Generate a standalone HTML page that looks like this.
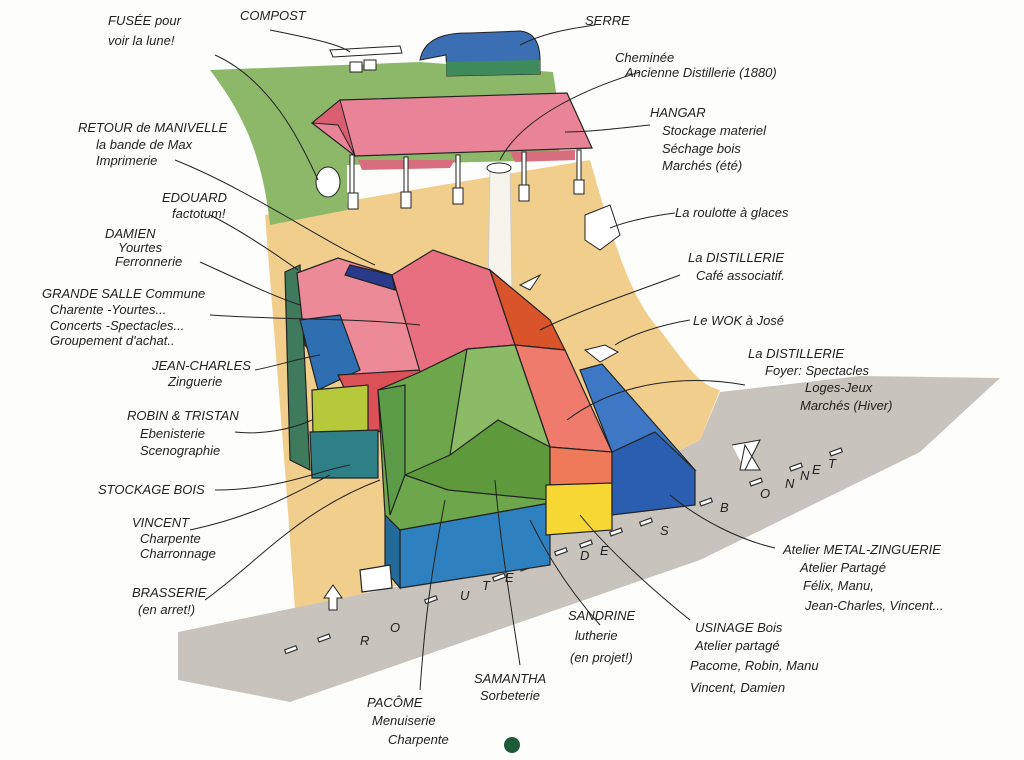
<!DOCTYPE html>
<html><head><meta charset="utf-8"><style>
html,body{margin:0;padding:0;background:#fff}
svg{display:block}
text{font-family:"Liberation Sans",sans-serif;font-style:italic;font-size:13px;fill:#222}
</style></head><body>
<svg width="1024" height="760" viewBox="0 0 1024 760" xmlns="http://www.w3.org/2000/svg">
<rect width="1024" height="760" fill="#fdfdfb"/>
<!-- beige ground -->
<path d="M265,215 L590,160 C610,230 630,300 660,330 C690,370 700,385 720,390 L700,440 L420,580 L295,610 L285,470 Z" fill="#f1ce8c"/>
<!-- green field -->
<path d="M210,70 L420,62 L553,72 L556,92 L560,160 L347,165 L347,210 L270,225 C262,150 240,110 210,70 Z" fill="#8db86a"/>
<!-- gray road area -->
<path d="M178,632 L420,582 L700,440 L720,392 L860,376 L1000,378 L920,452 L700,560 L290,702 L178,680 Z" fill="#c9c3bd"/>
<!-- road dashes -->
<g stroke="#333" stroke-width="1.2" fill="#fff">
<rect x="285" y="648" width="12" height="4" transform="rotate(-20 290 650)"/>
<rect x="318" y="636" width="12" height="4" transform="rotate(-20 324 638)"/>
<rect x="425" y="598" width="12" height="4" transform="rotate(-20 430 600)"/>
<rect x="493" y="575" width="12" height="4" transform="rotate(-20 500 577)"/>
<rect x="520" y="565" width="12" height="4" transform="rotate(-20 526 567)"/>
<rect x="555" y="550" width="12" height="4" transform="rotate(-20 560 552)"/>
<rect x="580" y="542" width="12" height="4" transform="rotate(-20 586 544)"/>
<rect x="610" y="530" width="12" height="4" transform="rotate(-20 616 532)"/>
<rect x="640" y="520" width="12" height="4" transform="rotate(-20 646 522)"/>
<rect x="700" y="500" width="12" height="4" transform="rotate(-20 706 502)"/>
<rect x="750" y="480" width="12" height="4" transform="rotate(-20 756 482)"/>
<rect x="790" y="465" width="12" height="4" transform="rotate(-20 796 467)"/>
<rect x="830" y="450" width="12" height="4" transform="rotate(-20 836 452)"/>
</g>
<g font-size="13" style="font-style:normal">
<text x="360" y="645">R</text><text x="390" y="632">O</text><text x="460" y="600">U</text><text x="482" y="590">T</text><text x="505" y="582">E</text>
<text x="580" y="560">D</text><text x="600" y="555">E</text><text x="660" y="535">S</text><text x="720" y="512">B</text><text x="760" y="498">O</text><text x="785" y="488">N</text><text x="800" y="480">N</text><text x="812" y="474">E</text><text x="828" y="468">T</text>
</g>
<!-- white arrows -->
<path d="M745,445 L760,470 L740,470 Z M732,445 L760,440 L745,470" fill="#fff" stroke="#222"/>
<path d="M333,585 L342,598 L337,598 L337,610 L329,610 L329,598 L324,598 Z" fill="#fff" stroke="#222"/>
<path d="M540,275 L530,290 L520,285 Z" fill="#fff" stroke="#222"/>
<!-- serre -->
<path d="M420,60 Q425,32 470,33 L520,31 Q540,33 540,60 L540,74 L447,76 L446,55 L420,60 Z" fill="#3c6eb4" stroke="#222"/>
<path d="M446,62 L540,60 L540,74 L447,76 Z" fill="#3f8a5b"/>
<!-- compost -->
<path d="M330,50 L400,46 L402,53 L333,57 Z" fill="#fff" stroke="#222"/>
<rect x="350" y="62" width="12" height="10" fill="#fff" stroke="#222"/><rect x="364" y="60" width="12" height="10" fill="#fff" stroke="#222"/>
<!-- hangar -->
<path d="M312,123 L340,100 L567,93 L592,148 L355,156 Z" fill="#e98498" stroke="#222" stroke-width="1.2"/>
<path d="M340,100 L312,123 L338,125 L355,156 Z" fill="#d95f70" stroke="#222"/>
<path d="M358,160 L455,160 L450,168 L362,170 Z M510,152 L575,150 L575,160 L515,162 Z" fill="#d86e7d"/>
<g fill="#fff" stroke="#222">
<rect x="350" y="155" width="4" height="40"/><rect x="348" y="193" width="10" height="16"/>
<rect x="404" y="157" width="4" height="36"/><rect x="401" y="192" width="10" height="16"/>
<rect x="456" y="155" width="4" height="35"/><rect x="453" y="188" width="10" height="16"/>
<rect x="522" y="152" width="4" height="35"/><rect x="519" y="185" width="10" height="16"/>
<rect x="577" y="150" width="4" height="33"/><rect x="574" y="180" width="10" height="14"/>
<ellipse cx="328" cy="182" rx="12" ry="15"/>
</g>
<!-- chimney -->
<path d="M490,168 L510,168 L512,290 L488,290 Z" fill="#f7f4ee" stroke="#ccc"/>
<ellipse cx="499" cy="168" rx="12" ry="5" fill="#fff" stroke="#222"/>
<!-- roulotte -->
<path d="M585,215 L610,205 L620,235 L600,250 L585,240 Z" fill="#fff" stroke="#222"/>
<path d="M585,350 L605,345 L618,352 L600,362 Z" fill="#fff" stroke="#222"/>
<!-- buildings -->
<g stroke="#222" stroke-width="1.2">
<path d="M285,272 L300,265 L310,470 L290,460 Z" fill="#3f7a5c"/>
<path d="M297,273 L338,258 L392,275 L420,370 L330,380 L305,345 Z" fill="#ec8a98"/>
<path d="M300,320 L340,315 L360,370 L318,390 Z" fill="#2d6fb0"/>
<path d="M338,375 L420,370 L418,430 L365,432 Z" fill="#dc5058"/>
<path d="M312,390 L368,385 L368,435 L313,435 Z" fill="#b6c93a"/>
<path d="M310,432 L378,430 L378,478 L312,478 Z" fill="#2e7f86"/>
<path d="M350,265 L392,275 L395,290 L345,275 Z" fill="#2a3a8a"/>
<path d="M392,275 L433,250 L490,270 L515,345 L465,350 L420,372 Z" fill="#e86f7f"/>
<path d="M490,270 L550,320 L565,350 L515,345 Z" fill="#d9532b"/>
<path d="M515,345 L565,350 L612,452 L550,447 Z" fill="#ee7b6c"/>
<path d="M378,390 L420,372 L467,349 L515,345 L550,447 L550,503 L400,530 L385,515 Z" fill="#6ea64c"/>
<path d="M467,349 L515,345 L550,447 L450,455 Z" fill="#8cbb66"/>
<path d="M405,475 L450,455 L498,420 L550,447 L550,500 L448,490 Z" fill="#5e9a3c"/>
<path d="M378,390 L405,385 L405,475 L390,515 Z" fill="#5c9b48"/>
<path d="M400,530 L550,503 L550,565 L400,588 Z" fill="#2f80bf"/>
<path d="M385,515 L400,530 L400,588 L385,570 Z" fill="#226a97"/>
<path d="M550,447 L612,452 L612,485 L550,485 Z" fill="#ee7a5a"/>
<path d="M546,485 L612,483 L612,530 L546,535 Z" fill="#f6d734"/>
<path d="M580,370 L602,364 L695,470 L612,452 Z" fill="#3e78c4"/>
<path d="M612,452 L655,432 L695,470 L695,505 L612,515 Z" fill="#2b5db0"/>
<path d="M360,570 L390,565 L392,588 L362,592 Z" fill="#fff"/>
</g>
<!-- leader lines -->
<g stroke="#222" stroke-width="1" fill="none">
<path d="M215,55 C270,80 300,140 318,180"/>
<path d="M270,30 C320,40 340,45 350,52"/>
<path d="M595,25 C560,30 540,35 520,45"/>
<path d="M640,72 C580,90 520,120 500,160"/>
<path d="M650,125 C620,128 590,132 565,132"/>
<path d="M175,160 C250,190 320,240 375,265"/>
<path d="M210,215 C240,230 270,250 298,270"/>
<path d="M200,262 C240,280 270,295 300,305"/>
<path d="M210,315 C280,320 360,318 420,325"/>
<path d="M255,370 C280,365 300,358 320,355"/>
<path d="M235,432 C260,435 290,430 312,420"/>
<path d="M215,490 C280,490 320,470 350,465"/>
<path d="M190,530 C260,515 300,490 330,475"/>
<path d="M205,600 C260,560 300,510 380,480"/>
<path d="M675,213 C650,216 625,222 610,228"/>
<path d="M680,275 C640,290 580,310 540,330"/>
<path d="M690,320 C660,325 630,335 615,345"/>
<path d="M745,385 C690,375 620,380 567,420"/>
<path d="M775,548 C740,540 700,520 670,495"/>
<path d="M600,625 C560,580 540,540 530,520"/>
<path d="M690,620 C640,580 600,540 580,515"/>
<path d="M520,665 C510,600 500,540 495,480"/>
<path d="M420,690 C425,620 430,580 445,500"/>
</g>
<!-- labels -->
<text x="108" y="25">FUSÉE pour</text><text x="108" y="45">voir la lune!</text>
<text x="240" y="20">COMPOST</text>
<text x="585" y="25">SERRE</text>
<text x="615" y="62">Cheminée</text><text x="625" y="77">Ancienne Distillerie (1880)</text>
<text x="650" y="117">HANGAR</text><text x="662" y="135">Stockage materiel</text><text x="662" y="153">Séchage bois</text><text x="662" y="170">Marchés (été)</text>
<text x="78" y="132">RETOUR de MANIVELLE</text><text x="96" y="149">la bande de Max</text><text x="96" y="165">Imprimerie</text>
<text x="162" y="202">EDOUARD</text><text x="172" y="218">factotum!</text>
<text x="105" y="238">DAMIEN</text><text x="118" y="252">Yourtes</text><text x="115" y="266">Ferronnerie</text>
<text x="42" y="298">GRANDE SALLE Commune</text><text x="50" y="314">Charente -Yourtes...</text><text x="50" y="330">Concerts -Spectacles...</text><text x="50" y="345">Groupement d'achat..</text>
<text x="152" y="370">JEAN-CHARLES</text><text x="168" y="386">Zinguerie</text>
<text x="127" y="420">ROBIN &amp; TRISTAN</text><text x="140" y="438">Ebenisterie</text><text x="140" y="455">Scenographie</text>
<text x="98" y="494">STOCKAGE BOIS</text>
<text x="132" y="527">VINCENT</text><text x="140" y="543">Charpente</text><text x="140" y="558">Charronnage</text>
<text x="132" y="597">BRASSERIE</text><text x="138" y="614">(en arret!)</text>
<text x="675" y="217">La roulotte à glaces</text>
<text x="688" y="262">La DISTILLERIE</text><text x="696" y="280">Café associatif.</text>
<text x="693" y="325">Le WOK à José</text>
<text x="748" y="358">La DISTILLERIE</text><text x="765" y="375">Foyer: Spectacles</text><text x="805" y="392">Loges-Jeux</text><text x="800" y="410">Marchés (Hiver)</text>
<text x="783" y="554">Atelier METAL-ZINGUERIE</text><text x="800" y="572">Atelier Partagé</text><text x="803" y="590">Félix, Manu,</text><text x="805" y="610">Jean-Charles, Vincent...</text>
<text x="695" y="632">USINAGE Bois</text><text x="695" y="650">Atelier partagé</text><text x="690" y="670">Pacome, Robin, Manu</text><text x="690" y="692">Vincent, Damien</text>
<text x="568" y="620">SANDRINE</text><text x="575" y="640">lutherie</text><text x="570" y="662">(en projet!)</text>
<text x="474" y="683">SAMANTHA</text><text x="480" y="700">Sorbeterie</text>
<text x="367" y="707">PACÔME</text><text x="372" y="725">Menuiserie</text><text x="388" y="744">Charpente</text>
<circle cx="512" cy="745" r="8" fill="#1d5a3a"/>
</svg>
</body></html>
